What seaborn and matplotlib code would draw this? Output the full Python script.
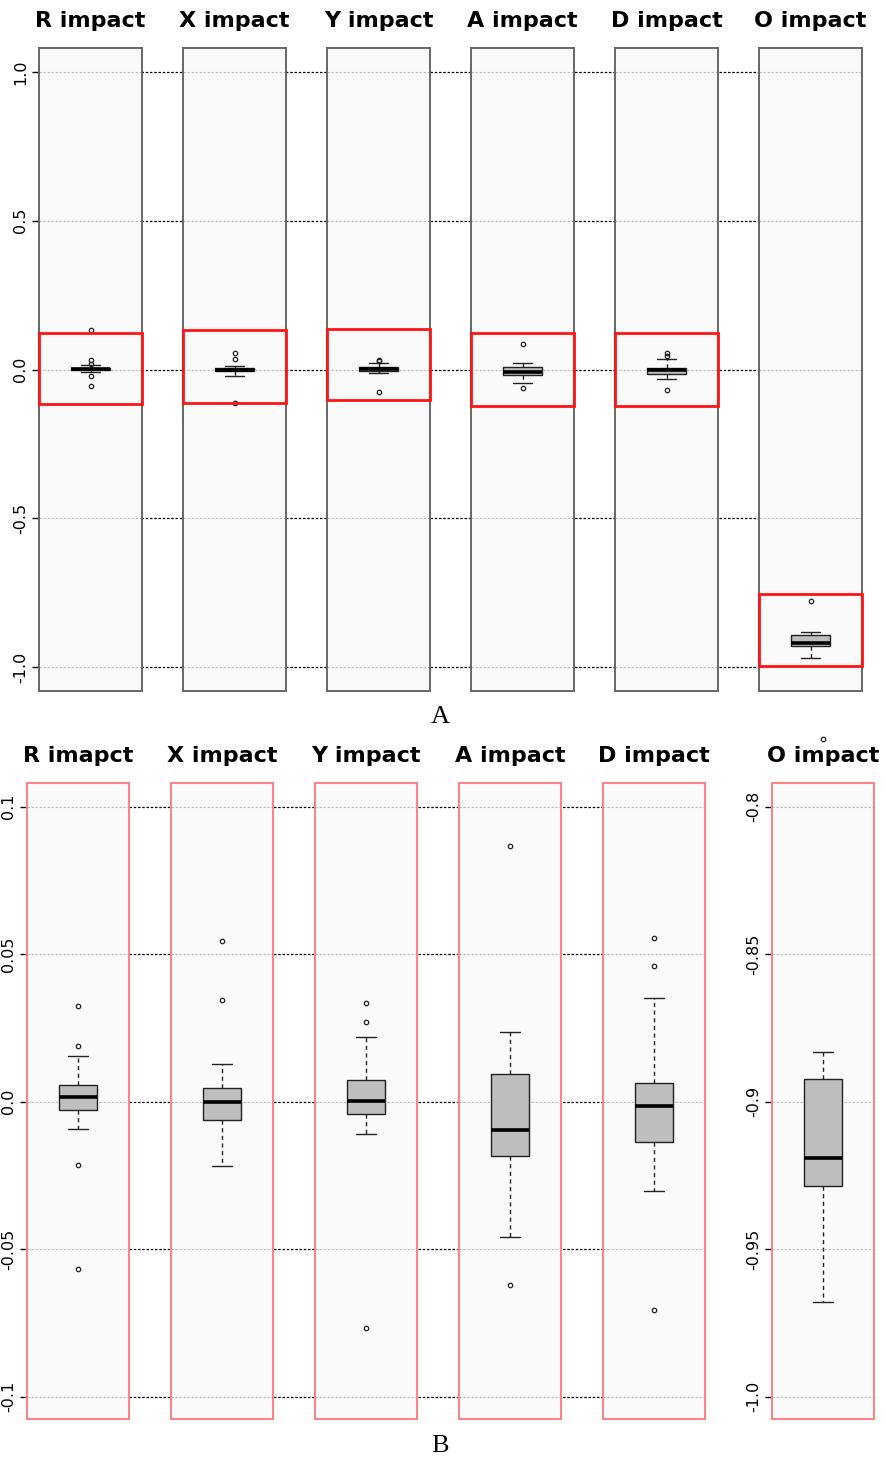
import matplotlib
matplotlib.use("Agg")
import matplotlib.pyplot as plt
from matplotlib.patches import Rectangle
import seaborn as sns

sns.set_style("white")
plt.rcParams["font.family"] = ["DejaVu Sans"]
plt.rcParams["text.color"] = "black"
plt.rcParams["ytick.color"] = "black"
plt.rcParams["axes.labelcolor"] = "black"

# ---- data -------------------------------------------------------------
titles_a = ["R impact", "X impact", "Y impact", "A impact", "D impact", "O impact"]
titles_b = ["R imapct", "X impact", "Y impact", "A impact", "D impact", "O impact"]

r_impact = [-0.0566, -0.0214, -0.0092, -0.0060, -0.0028, -0.0015, -0.0005, 0.0005,
            0.0015, 0.0025, 0.0035, 0.0045, 0.0057, 0.0154, 0.0190, 0.0325, 0.1340]
x_impact = [-0.1120, -0.0217, -0.0120, -0.0061, -0.0040, -0.0020, 0.0000, 0.0015,
            0.0030, 0.0046, 0.0128, 0.0346, 0.0546]
y_impact = [-0.0766, -0.0111, -0.0070, -0.0043, -0.0028, -0.0012, 0.0001, 0.0025,
            0.0050, 0.0075, 0.0221, 0.0271, 0.0335]
a_impact = [-0.0620, -0.0458, -0.0183, -0.0140, -0.0095, 0.0000, 0.0095, 0.0235, 0.0868]
d_impact = [-0.0704, -0.0304, -0.0200, -0.0138, -0.0100, -0.0060, -0.0015, 0.0010,
            0.0040, 0.0065, 0.0353, 0.0461, 0.0556]
o_impact = [-0.9680, -0.9450, -0.9284, -0.9240, -0.9191, -0.9050, -0.8923, -0.8830, -0.7770]
impacts = [r_impact, x_impact, y_impact, a_impact, d_impact, o_impact]

ticks_a = [-1.0, -0.5, 0.0, 0.5, 1.0]
tick_labels_a = ["-1.0", "-0.5", "0.0", "0.5", "1.0"]
ticks_b = [-0.1, -0.05, 0.0, 0.05, 0.1]
tick_labels_b = ["-0.1", "-0.05", "0.0", "0.05", "0.1"]
ticks_b_o = [-1.0, -0.95, -0.9, -0.85, -0.8]
tick_labels_b_o = ["-1.0", "-0.95", "-0.9", "-0.85", "-0.8"]

# highlighted zoom windows in the overview row (lower, upper)
window_low = [-0.117, -0.114, -0.104, -0.124, -0.121, -0.995]
window_high = [0.124, 0.134, 0.137, 0.121, 0.124, -0.754]

# ---- layout -------------------------------------------------------------
W, H = 885, 1463
fig = plt.figure(figsize=(W / 100, H / 100), dpi=100)


def rect(x0, y0, x1, y1):
    return [x0 / W, 1 - y1 / H, (x1 - x0) / W, (y1 - y0) / H]


ylim_a = (-1.08, 1.08)
ylim_b = (-0.1075, 0.108)
ylim_b_o = (-1.0075, -0.792)

lefts_a = [39, 183, 327, 471, 615, 759]
lefts_b = [27, 171, 315, 459, 603, 772]
top_a, bottom_a, width_a = 48, 691, 103
top_b, bottom_b, width_b = 783, 1419, 102


def backdrop(x0, x1, y0, y1, ylim, ticks):
    bg = fig.add_axes(rect(x0, y0, x1, y1), zorder=0)
    bg.set_xlim(0, 1)
    bg.set_ylim(*ylim)
    for t in ticks:
        bg.axhline(t, color="black", lw=0.9, ls=(0, (2, 1.4)))
    bg.axis("off")


def draw_box(ax, values):
    sns.boxplot(y=values, ax=ax, width=0.38, color="#bebebe", saturation=1,
                linecolor="#222222", linewidth=1.0, fliersize=3.2,
                whiskerprops={"linestyle": (0, (3, 2.5))},
                medianprops={"color": "black", "linewidth": 2.6},
                flierprops={"marker": "o", "markerfacecolor": "none",
                            "markeredgewidth": 0.9})


def style_panel(ax, ylim, ticks, labels, edge, show_y):
    ax.set_facecolor("#fafafa")
    ax.set_xlim(-0.5, 0.5)
    ax.set_ylim(*ylim)
    ax.set_xticks([])
    ax.set_xlabel("")
    ax.set_ylabel("")
    ax.set_yticks(ticks)
    for t in ticks:
        ax.axhline(t, color="#b8b8b8", lw=0.8, ls=(0, (2, 1.6)), zorder=0.5)
    for s in ax.spines.values():
        s.set_visible(True)
        s.set_color(edge)
        s.set_linewidth(1.4)
    if show_y:
        ax.set_yticklabels(labels, rotation=90, va="center", fontsize=11.5)
        ax.tick_params(axis="y", left=True, length=5, width=1, color="black",
                       labelcolor="black", pad=3)
    else:
        ax.tick_params(axis="y", left=False, labelleft=False)


# ---- row A: full range ----------------------------------------------------
backdrop(39, 862, top_a, bottom_a, ylim_a, ticks_a)
for i, (title, vals) in enumerate(zip(titles_a, impacts)):
    x0 = lefts_a[i]
    ax = fig.add_axes(rect(x0, top_a, x0 + width_a, bottom_a), zorder=2)
    draw_box(ax, vals)
    style_panel(ax, ylim_a, ticks_a, tick_labels_a, "#666666", i == 0)
    ax.set_title(title, fontsize=16, fontweight="bold", color="black", pad=15)
    ax.add_patch(Rectangle((-0.5, window_low[i]), 1.0, window_high[i] - window_low[i],
                           fill=False, ec="#ff1414", lw=2, clip_on=False, zorder=6))

# ---- row B: zoomed range ---------------------------------------------------
backdrop(27, 705, top_b, bottom_b, ylim_b, ticks_b)
for i, (title, vals) in enumerate(zip(titles_b, impacts)):
    x0 = lefts_b[i]
    ax = fig.add_axes(rect(x0, top_b, x0 + width_b, bottom_b), zorder=2)
    draw_box(ax, vals)
    if i == 5:
        style_panel(ax, ylim_b_o, ticks_b_o, tick_labels_b_o, "#ff8080", True)
        for ln in ax.lines:
            if ln.get_marker() == "o":
                ln.set_clip_on(False)
    else:
        style_panel(ax, ylim_b, ticks_b, tick_labels_b, "#ff8080", i == 0)
    ax.set_title(title, fontsize=16, fontweight="bold", color="black", pad=15)

fig.text(440 / W, 1 - 717 / H, "A", ha="center", va="center",
         fontsize=19, family="Liberation Serif")
fig.text(440 / W, 1 - 1446 / H, "B", ha="center", va="center",
         fontsize=19, family="Liberation Serif")

fig.savefig("out.png", dpi=100, facecolor="white")
